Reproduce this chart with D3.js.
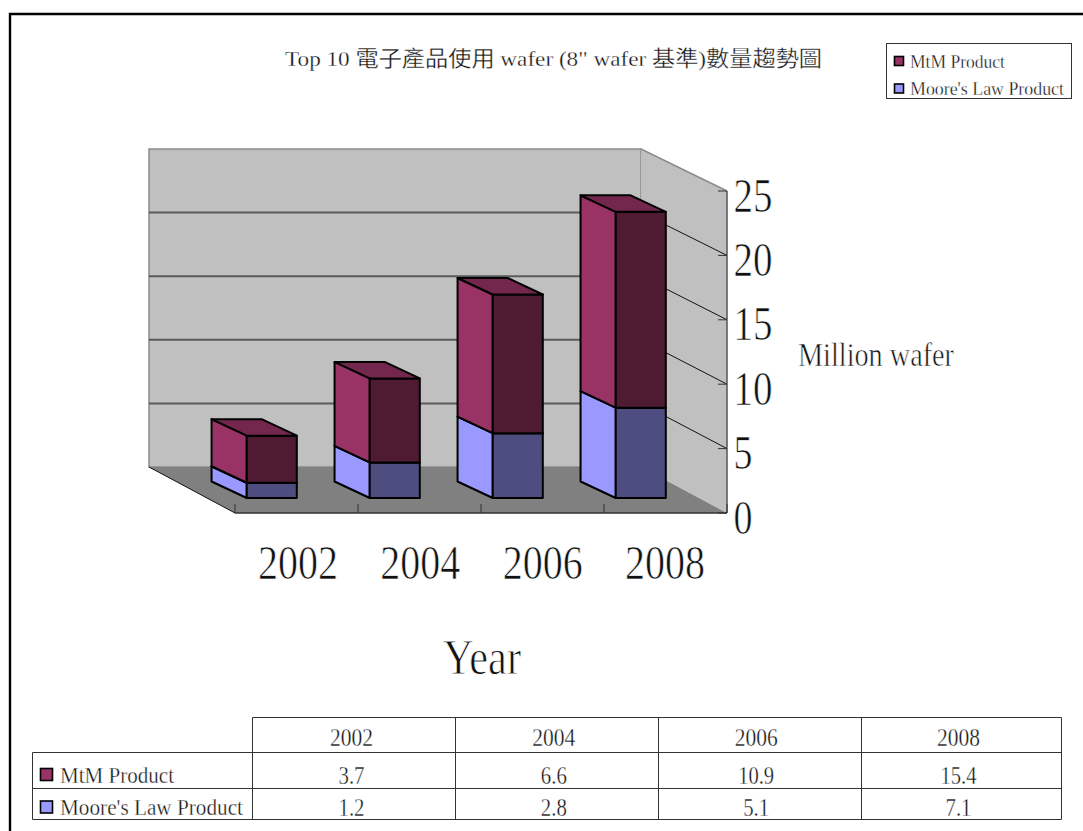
<!DOCTYPE html>
<html>
<head>
<meta charset="utf-8">
<script src="https://cdnjs.cloudflare.com/ajax/libs/d3/7.8.5/d3.min.js"></script>
<style>
html,body{margin:0;padding:0;background:#fff;overflow:hidden}
svg{display:block}
text{font-family:"Liberation Serif","Noto Sans CJK TC",serif;fill:#111;paint-order:normal}
</style>
</head>
<body>
<script>
const years = ["2002", "2004", "2006", "2008"];
const mtmProduct = [3.7, 6.6, 10.9, 15.4];
const mooreProduct = [1.2, 2.8, 5.1, 7.1];
const valueTicks = [0, 5, 10, 15, 20, 25];
const seriesNames = ["Moore's Law Product", "MtM Product"];
const titleText = "Top 10 電子產品使用 wafer (8\" wafer 基準)數量趨勢圖";

const W = 1083, H = 831;
const svg = d3.select("body").append("svg").attr("width", W).attr("height", H);

const x = d3.scaleBand().domain(years).range([235, 727]).paddingInner(0.593).paddingOuter(0.2965);
const step = x.step();
const yFront = d3.scaleLinear().domain([0, 25]).range([513, 191]);
const yBack = d3.scaleLinear().domain([0, 25]).range([467, 149]);
const barH = d3.scaleLinear().domain([0, 25]).range([0, 318]);
const depthX = d3.scaleLinear().domain([0, 1]).range([0, -86]);
const depthY = d3.scaleLinear().domain([0, 1]).range([0, -46]);
const yearLabelX = d3.scalePoint().domain(years).range([298, 665]);
const zNear = 0.326, zFar = 0.735, zFarY = 0.685, barShift = 3.3;

const poly = pts => pts.map(p => p.join(",")).join(" ");
const xL = x.range()[0], xR = x.range()[1];
const bxL = xL + depthX(1), bxR = xR + depthX(1);

function label(t, cx, cy, size, len, anchor, thin) {
  const el = svg.append("text").text(t)
    .attr("x", cx).attr("y", cy)
    .attr("font-size", size)
    .attr("text-anchor", anchor || "middle")
    .attr("dominant-baseline", "central")
    .attr("stroke", "#fff").attr("stroke-width", thin === undefined ? 0.5 : thin);
  if (len) el.attr("textLength", len).attr("lengthAdjust", "spacingAndGlyphs");
  return el;
}

// frame
svg.append("path").attr("d", `M10,${H}V14H${W}`).attr("fill", "none").attr("stroke", "#000").attr("stroke-width", 2.4);

// walls and floor
svg.append("polygon").attr("points", poly([[bxL, yBack(25)], [bxR, yBack(25)], [bxR, yBack(0)], [bxL, yBack(0)]]))
  .attr("fill", "#c0c0c0").attr("stroke", "#8c8c8c").attr("stroke-width", 1.5);
svg.append("polygon").attr("points", poly([[bxR, yBack(25)], [xR, yFront(25)], [xR, yFront(0)], [bxR, yBack(0)]]))
  .attr("fill", "#c0c0c0").attr("stroke", "none");
svg.append("line").attr("x1", bxR).attr("y1", yBack(25)).attr("x2", xR).attr("y2", yFront(25)).attr("stroke", "#8c8c8c").attr("stroke-width", 1.5);
svg.append("polygon").attr("points", poly([[bxL, yBack(0)], [bxR, yBack(0)], [xR, yFront(0)], [xL, yFront(0)]]))
  .attr("fill", "#808080");

// gridlines
const inner = valueTicks.filter(v => v > 0 && v < 25);
svg.selectAll(".gb").data(inner).join("line")
  .attr("x1", bxL).attr("x2", bxR).attr("y1", d => yBack(d)).attr("y2", d => yBack(d))
  .attr("stroke", "#5a5a5a").attr("stroke-width", 2);
svg.selectAll(".gs").data(inner).join("line")
  .attr("x1", bxR).attr("x2", xR).attr("y1", d => yBack(d)).attr("y2", d => yFront(d))
  .attr("stroke", "#111").attr("stroke-width", 1);

// floor edges, axes, ticks
svg.append("line").attr("x1", bxL).attr("y1", yBack(0)).attr("x2", xL).attr("y2", yFront(0)).attr("stroke", "#111").attr("stroke-width", 1);
svg.append("line").attr("x1", xL).attr("y1", yFront(0)).attr("x2", xR).attr("y2", yFront(0)).attr("stroke", "#333").attr("stroke-width", 1.5);
svg.append("line").attr("x1", xR).attr("y1", yFront(0)).attr("x2", xR).attr("y2", yFront(25)).attr("stroke", "#555").attr("stroke-width", 1.5);
svg.selectAll(".ty").data(valueTicks).join("line")
  .attr("x1", xR - 9).attr("x2", xR).attr("y1", d => yFront(d)).attr("y2", d => yFront(d))
  .attr("stroke", "#333").attr("stroke-width", 1);
svg.selectAll(".tx").data(years.concat(["end"])).join("line")
  .attr("x1", (d, i) => xL + i * step).attr("x2", (d, i) => xL + i * step)
  .attr("y1", yFront(0) - 9).attr("y2", yFront(0))
  .attr("stroke", "#333").attr("stroke-width", 1);

// stacked 3D bars
const rows = years.map((y, i) => ({ year: y, "MtM Product": mtmProduct[i], "Moore's Law Product": mooreProduct[i] }));
const stacked = d3.stack().keys(seriesNames)(rows);
const faceColors = {
  "MtM Product": { side: "#993366", front: "#4f1b33", top: "#74274d" },
  "Moore's Law Product": { side: "#9999ff", front: "#4d4d80", top: "#7373bf" }
};
const bw = x.bandwidth();
const P = (xv, v, z) => [xv + depthX(z), yFront(0) + depthY(z === zFar ? zFarY : z) - barH(v)];
const layer = svg.append("g").attr("stroke", "#000").attr("stroke-width", 2).attr("stroke-linejoin", "round");
years.forEach((yr, i) => {
  const l = x(yr) + barShift, r = l + bw;
  stacked.forEach(s => {
    const [v0, v1] = s[i];
    const c = faceColors[s.key];
    layer.append("polygon").attr("fill", c.side).attr("points", poly([P(l, v0, zFar), P(l, v0, zNear), P(l, v1, zNear), P(l, v1, zFar)]));
    layer.append("polygon").attr("fill", c.front).attr("points", poly([P(l, v0, zNear), P(r, v0, zNear), P(r, v1, zNear), P(l, v1, zNear)]));
    layer.append("polygon").attr("fill", c.top).attr("points", poly([P(l, v1, zNear), P(r, v1, zNear), P(r, v1, zFar), P(l, v1, zFar)]));
  });
});

// axis labels
valueTicks.forEach(v => {
  label(String(v), 733.5, yFront(v) + 4, 49, String(v).length > 1 ? 39 : 19, "start", 0.7);
});
years.forEach(y => label(y, yearLabelX(y), 562.5, 48, 80, "middle", 0.7));
label("Million wafer", 876, 355, 33, 156, "middle", 0.6);
label("Year", 482, 656.5, 50, 78, "middle", 0.8);
label(titleText, 553.5, 58.5, 22, 537, "middle", 0.3);

// legend
svg.append("rect").attr("x", 886.5).attr("y", 43.5).attr("width", 185).attr("height", 55).attr("fill", "#fff").attr("stroke", "#333");
const legendRows = [
  { name: "MtM Product", color: faceColors["MtM Product"].side, cy: 61, len: 95 },
  { name: "Moore's Law Product", color: faceColors["Moore's Law Product"].side, cy: 88.5, len: 154 }
];
legendRows.forEach(d => {
  svg.append("rect").attr("x", 894.5).attr("y", d.cy - 4.5).attr("width", 9).attr("height", 9).attr("fill", d.color).attr("stroke", "#000").attr("stroke-width", 1.6);
  label(d.name, 910, d.cy, 19, d.len, "start", 0.3);
});

// data table
const tableCols = d3.scaleBand().domain(years).range([252, 1064]);
const tableText = d3.scalePoint().domain(years).range([351.5, 958.5]);
const tableY = [717.5, 752.5, 788.5, 819.5];
const rowCy = [737, 775, 807];
const tl = (x1, y1, x2, y2) => svg.append("line").attr("x1", x1).attr("y1", y1).attr("x2", x2).attr("y2", y2).attr("stroke", "#333");
tl(252.5, tableY[0], 1061.5, tableY[0]);
tl(32.5, tableY[1], 1061.5, tableY[1]);
tl(32.5, tableY[2], 1061.5, tableY[2]);
tl(32.5, tableY[3], 1061.5, tableY[3]);
tl(32.5, tableY[1], 32.5, tableY[3]);
years.forEach(y => tl(Math.round(tableCols(y)) + 0.5, tableY[0], Math.round(tableCols(y)) + 0.5, tableY[3]));
tl(1061.5, tableY[0], 1061.5, tableY[3]);
years.forEach((y, i) => {
  const cx = tableText(y);
  label(y, cx, rowCy[0], 25, 43, "middle", 0.35);
  label(String(mtmProduct[i]), cx, rowCy[1], 25, String(mtmProduct[i]).length > 3 ? 36 : 26, "middle", 0.35);
  label(String(mooreProduct[i]), cx, rowCy[2], 25, 26, "middle", 0.35);
});
[{ name: "MtM Product", color: faceColors["MtM Product"].side, cy: 775, tc: rowCy[1], len: 114 },
 { name: "Moore's Law Product", color: faceColors["Moore's Law Product"].side, cy: 807.5, tc: rowCy[2], len: 183 }].forEach(d => {
  svg.append("rect").attr("x", 40.5).attr("y", d.cy - 6.5).attr("width", 12).attr("height", 12).attr("fill", d.color).attr("stroke", "#000").attr("stroke-width", 1.6);
  label(d.name, 60, d.tc, 23, d.len, "start", 0.35);
});
</script>
</body>
</html>
